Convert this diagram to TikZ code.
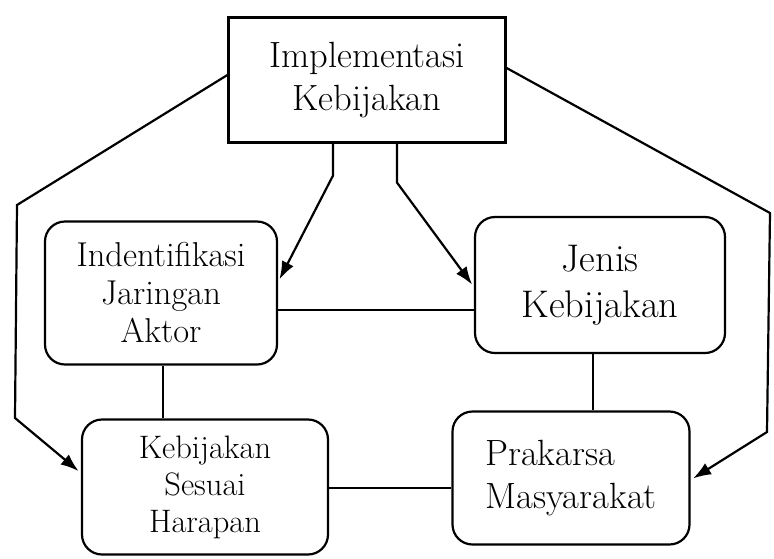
\documentclass[tikz,border=0pt]{standalone}
\usetikzlibrary{arrows.meta}

\begin{document}
\begin{tikzpicture}[
  x = 1pt, y = -1pt,
  line width = 2.2pt,
  every node/.style = {draw, align = center, inner sep = 0pt,
                       font = \fontsize{35}{42}\selectfont},
  kotak/.style = {rounded corners = 20pt},
  panah/.style = {-{Latex[length = 18pt, width = 13pt]}, shorten > = 3pt},
  ]
  \useasboundingbox (0,0) rectangle (774,558);
  \node (impl) [minimum width = 277pt, minimum height = 125pt,
                font = \fontsize{36.5}{43}\selectfont]
        at (367,80) {Implementasi\\Kebijakan};
  \node (aktor) [kotak, minimum width = 232pt, minimum height = 143pt,
                 font = \fontsize{34.5}{38}\selectfont]
        at (161,293) {Indentifikasi\\Jaringan\\Aktor};
  \node (jenis) [kotak, minimum width = 250pt, minimum height = 136pt,
                 font = \fontsize{38.5}{46}\selectfont]
        at (600,285) {Jenis\\Kebijakan};
  \node (harapan) [kotak, minimum width = 246pt, minimum height = 135pt,
                   font = \fontsize{32.5}{37}\selectfont]
        at (205,487) {Kebijakan\\Sesuai\\Harapan};
  \node (prakarsa) [kotak, align = left, minimum width = 237pt,
                    minimum height = 133pt,
                    font = \fontsize{36.5}{43}\selectfont]
        at (571,478) {Prakarsa\\Masyarakat};

  % panah dari implementasi
  \draw[panah] ([xshift = -34pt]impl.south) -- ++(0,32) -- ([yshift = 11pt]aktor.east);
  \draw[panah] ([xshift = 30pt]impl.south) -- ++(0,39) -- ([yshift = -2pt]jenis.west);
  \draw[panah] ([yshift = 5pt]impl.west) -- (17,205) -- (15,418) -- ([yshift = 14pt]harapan.west);
  \draw[panah] ([yshift = 12pt]impl.east) -- (770,213) -- (767,432) -- ([yshift = -2pt]prakarsa.east);

  % garis penghubung
  \draw ([yshift = -17pt]aktor.east) -- ([yshift = -17pt]aktor.east -| jenis.west);
  \draw ([xshift = 2pt]aktor.south) -- ([xshift = 2pt]aktor.south |- harapan.north);
  \draw ([xshift = -7pt]jenis.south) -- ([xshift = -7pt]jenis.south |- prakarsa.north);
  \draw ([yshift = -1pt]harapan.east) -- ([yshift = -1pt]harapan.east -| prakarsa.west);
\end{tikzpicture}
\end{document}
